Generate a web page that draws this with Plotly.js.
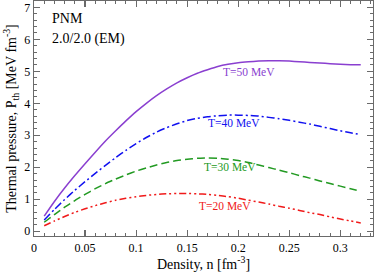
<!DOCTYPE html>
<html>
<head>
<meta charset="utf-8">
<script src="https://cdn.plot.ly/plotly-3.0.1.min.js"></script>
<style>html,body{margin:0;padding:0;background:#fff;}#chart{width:374px;height:272px;}</style>
</head>
<body>
<div id="chart"></div>
<script>
const density = [0.01,0.02,0.03,0.04,0.05,0.06,0.07,0.08,0.09,0.10,0.11,0.12,0.13,0.14,0.15,0.16,0.17,0.18,0.19,0.20,0.21,0.22,0.23,0.24,0.25,0.26,0.27,0.28,0.29,0.30,0.31,0.32];
const pT50 = [0.47,0.93,1.35,1.74,2.11,2.47,2.82,3.14,3.45,3.74,4.00,4.24,4.45,4.64,4.80,4.94,5.05,5.15,5.22,5.27,5.30,5.32,5.33,5.33,5.32,5.30,5.28,5.26,5.24,5.22,5.21,5.21];
const pT40 = [0.35,0.68,0.99,1.28,1.55,1.81,2.06,2.30,2.53,2.74,2.93,3.10,3.24,3.36,3.46,3.53,3.58,3.61,3.63,3.63,3.62,3.60,3.56,3.52,3.47,3.41,3.35,3.28,3.21,3.14,3.08,3.02];
const pT30 = [0.28,0.52,0.75,0.96,1.15,1.33,1.49,1.63,1.76,1.88,1.98,2.07,2.15,2.21,2.25,2.28,2.29,2.28,2.25,2.21,2.15,2.07,1.99,1.91,1.83,1.74,1.66,1.57,1.49,1.41,1.33,1.25];
const pT20 = [0.17,0.32,0.46,0.59,0.70,0.80,0.89,0.97,1.03,1.08,1.12,1.15,1.17,1.18,1.18,1.17,1.15,1.12,1.08,1.03,0.97,0.91,0.85,0.78,0.72,0.65,0.58,0.52,0.45,0.38,0.32,0.26];
const seriesNames = ["T=50 MeV","T=40 MeV","T=30 MeV","T=20 MeV"];
const labelX = [0.211,0.196,0.192,0.187];
const labelY = [4.98,3.39,2.02,0.78];
const panelText = ["PNM","2.0/2.0 (EM)"];

const colors = ["#8a3fd0","#1010f0","#229a22","#f01a1a"];
const dashes = ["solid","8px,3px,2px,3px","8px,4px","7px,3px,2px,3px,2px,3px"];
const ys = [pT50,pT40,pT30,pT20];

const traces = ys.map((y,i)=>({
  x: density, y: y, type:'scatter', mode:'lines', name: seriesNames[i],
  line:{color:colors[i], width:1.5, dash:dashes[i], shape:'spline', smoothing:0.6},
  hoverinfo:'skip'
}));

const fam = 'Liberation Serif, Times New Roman, serif';
const font = {family:fam, color:'#000'};
const annotations = seriesNames.map((t,i)=>({
  x: labelX[i], y: labelY[i], xref:'x', yref:'y', text:t, showarrow:false,
  font:{family:fam, size:11.5, color:colors[i]}, xanchor:'center', yanchor:'middle'
}));
annotations.push({x:0.048, y:0.925, xref:'paper', yref:'paper', text:panelText[0], showarrow:false,
  font:{family:fam, size:14, color:'#000'}, xanchor:'left', yanchor:'middle'});
annotations.push({x:0.048, y:0.84, xref:'paper', yref:'paper', text:panelText[1], showarrow:false,
  font:{family:fam, size:14, color:'#000'}, xanchor:'left', yanchor:'middle'});

const axisCommon = {
  showline:true, linecolor:'#6a6a6a', linewidth:1.3, mirror:'allticks',
  ticks:'inside', ticklen:6, tickwidth:1.2, tickcolor:'#6a6a6a',
  showgrid:false, zeroline:false, tickfont:{family:fam, size:12, color:'#000'}
};

const layout = {
  width:374, height:272,
  margin:{l:34, r:1, t:1, b:36},
  paper_bgcolor:'#fff', plot_bgcolor:'#fff',
  showlegend:false,
  font: font,
  xaxis: Object.assign({}, axisCommon, {
    range:[0,0.332], tick0:0, dtick:0.05,
    minor:{dtick:0.01, ticks:'inside', ticklen:3, tickwidth:1, tickcolor:'#6a6a6a'},
    title:{text:'Density, n [fm<sup>-3</sup>]', font:{family:fam, size:14, color:'#000'}, standoff:4}
  }),
  yaxis: Object.assign({}, axisCommon, {
    range:[-0.15,7.2], tick0:0, dtick:1,
    minor:{dtick:0.2, ticks:'inside', ticklen:3, tickwidth:1, tickcolor:'#6a6a6a'},
    title:{text:'Thermal pressure, P<sub>th</sub> [MeV fm<sup>-3</sup>]', font:{family:fam, size:14, color:'#000'}, standoff:4}
  }),
  annotations: annotations
};

Plotly.newPlot('chart', traces, layout, {displayModeBar:false, staticPlot:true});
</script>
</body>
</html>
